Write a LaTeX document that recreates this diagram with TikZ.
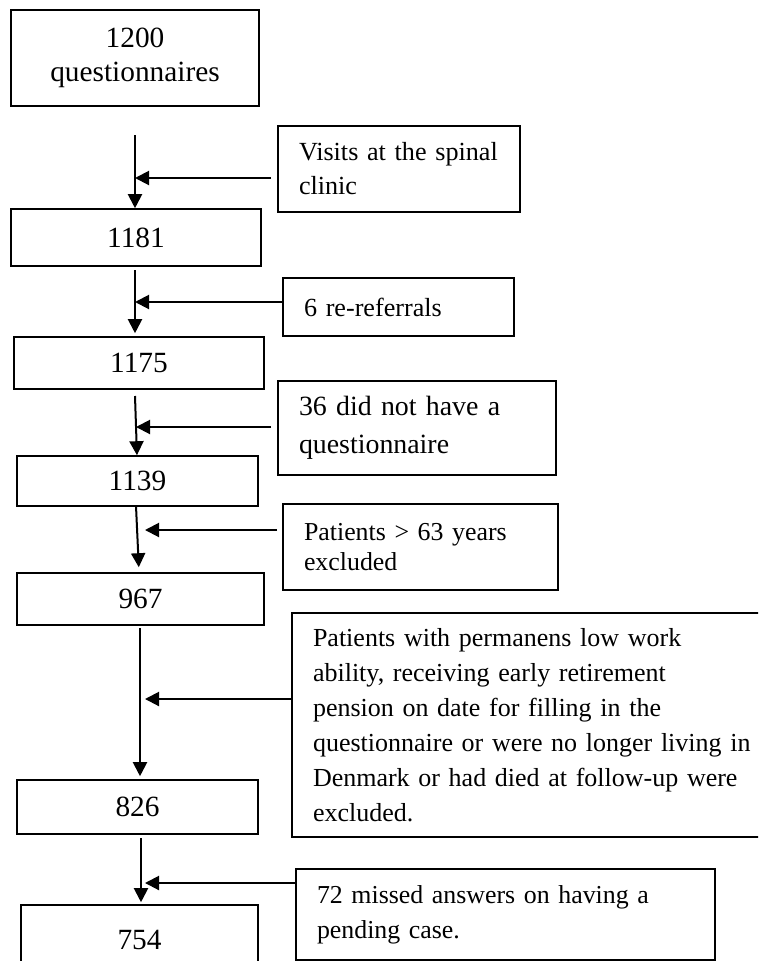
\documentclass[tikz,border=0pt]{standalone}
\usepackage{fontspec}
\setmainfont{Liberation Serif}
\usetikzlibrary{arrows.meta}
\tikzset{
	countbox/.style={draw, line width=1.2pt, inner sep=0pt, align=center,
		font=\fontsize{22}{25.5}\selectfont},
	notebox/.style={draw, line width=1.2pt, inner xsep=15.75pt, inner ysep=0pt, align=left,
		font=\fontsize{19.6}{26.25}\selectfont},
	flow/.style={line width=1.5pt, -{Triangle[width=10.5pt,length=10.5pt]}}
}
\begin{document}
\begin{tikzpicture}[x=0.75pt,y=-0.75pt]
			\useasboundingbox (0,0) rectangle (758,961);
			\clip (0,0) rectangle (758,961);
			% counts
			\node[countbox, minimum width=186pt, minimum height=72pt] (n1200) at (135,58) {1200\\questionnaires};
			\node[countbox, minimum width=187.5pt, minimum height=42.75pt] (n1181) at (136,237.5) {1181};
			\node[countbox, minimum width=187.5pt, minimum height=39pt] (n1175) at (139,363) {1175};
			\node[countbox, minimum width=180.75pt, minimum height=37.5pt] (n1139) at (137.5,481) {1139};
			\node[countbox, minimum width=185.25pt, minimum height=39pt] (n967) at (140.5,599) {967};
			\node[countbox, minimum width=180.75pt, minimum height=40.5pt] (n826) at (137.5,807) {826};
			\node[countbox, minimum width=177.75pt, minimum height=52.5pt] (n754) at (139.5,940) {754};
			% exclusions
			\node[notebox, text width=150pt, minimum height=64.5pt, font=\fontsize{19.6}{25.5}\selectfont] (visits) at (399,169) {Visits at the spinal\\clinic};
			\node[notebox, text width=141.75pt, minimum height=43.5pt] (rerefer) at (398.5,307) {6 re-referrals};
			\node[notebox, text width=177pt, minimum height=70.5pt, font=\fontsize{20.9}{28.5}\selectfont] (noquest) at (417,428) {36 did not have a\\questionnaire};
			\node[notebox, text width=174.75pt, minimum height=64.5pt, font=\fontsize{19.4}{22.5}\selectfont] (older) at (420.5,547) {Patients > 63 years\\excluded};
			\node[notebox, text width=337.5pt, minimum height=168pt, font=\fontsize{19.5}{26.25}\selectfont] (excluded) at (538,725) {Patients with permanens low work\\ability, receiving early retirement\\pension on date for filling in the\\questionnaire or were no longer living in\\Denmark or had died at follow-up were\\excluded.};
			\node[notebox, text width=282.75pt, minimum height=68.25pt, font=\fontsize{19.4}{26.25}\selectfont] (missing) at (505.5,914.5) {72 missed answers on having a\\pending case.};
			% main arrows
			\coordinate (top1) at (135,135);
			\coordinate (top2) at (135,270);
			\coordinate (top3) at (135,396);
			\coordinate (top4) at (136,506);
			\coordinate (top5) at (140,628);
			\coordinate (top6) at (141,838);
			\draw[flow] (top1) -- (top1 |- n1181.north);
			\draw[flow, shorten >=2.25pt] (top2) -- (top2 |- n1175.north);
			\draw[flow] (top3) -- ([xshift=-0.4pt]n1139.north);
			\draw[flow, shorten >=3.75pt] (top4) -- ([xshift=-1.1pt]n967.north);
			\draw[flow, shorten >=2.25pt] (top5) -- (top5 |- n826.north);
			\draw[flow, shorten >=1.5pt] (top6) -- (top6 |- n754.north);
			% side arrows
			\coordinate (tip1) at (135,178);
			\coordinate (tip2) at (135,302);
			\coordinate (tip3) at (136,427);
			\coordinate (tip4) at (145,530);
			\coordinate (tip5) at (145,699);
			\coordinate (tip6) at (145,883);
			\foreach \src/\tip/\gap in {visits/tip1/4.5pt, rerefer/tip2/0pt, noquest/tip3/4.5pt,
				older/tip4/3.75pt, excluded/tip5/0pt, missing/tip6/0pt}{
				\draw[flow, shorten <=\gap] (\src.west |- \tip) -- (\tip);
			}
		\end{tikzpicture}
\end{document}
